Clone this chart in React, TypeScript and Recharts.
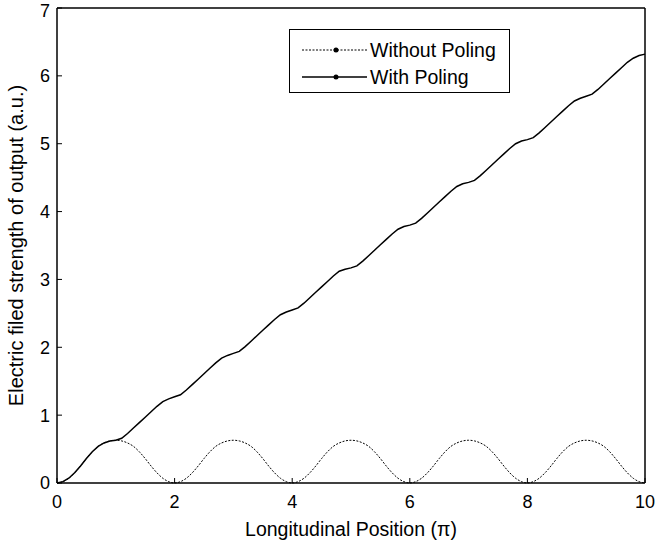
import React from 'react';
import { LineChart, Line, XAxis, YAxis, Legend } from 'recharts';

// longitudinal position, in units of pi
const positions = [
  0, 0.1, 0.2, 0.3, 0.4, 0.5, 0.6, 0.7, 0.8, 0.9,
  1, 1.1, 1.2, 1.3, 1.4, 1.5, 1.6, 1.7, 1.8, 1.9,
  2, 2.1, 2.2, 2.3, 2.4, 2.5, 2.6, 2.7, 2.8, 2.9,
  3, 3.1, 3.2, 3.3, 3.4, 3.5, 3.6, 3.7, 3.8, 3.9,
  4, 4.1, 4.2, 4.3, 4.4, 4.5, 4.6, 4.7, 4.8, 4.9,
  5, 5.1, 5.2, 5.3, 5.4, 5.5, 5.6, 5.7, 5.8, 5.9,
  6, 6.1, 6.2, 6.3, 6.4, 6.5, 6.6, 6.7, 6.8, 6.9,
  7, 7.1, 7.2, 7.3, 7.4, 7.5, 7.6, 7.7, 7.8, 7.9,
  8, 8.1, 8.2, 8.3, 8.4, 8.5, 8.6, 8.7, 8.8, 8.9,
  9, 9.1, 9.2, 9.3, 9.4, 9.5, 9.6, 9.7, 9.8, 9.9,
  10,
];

const withoutPoling = [
  0, 0.02, 0.07, 0.15, 0.25, 0.36, 0.46, 0.54, 0.59, 0.62,
  0.63, 0.62, 0.59, 0.54, 0.46, 0.36, 0.25, 0.15, 0.07, 0.02,
  0, 0.02, 0.07, 0.15, 0.25, 0.36, 0.46, 0.54, 0.59, 0.62,
  0.63, 0.62, 0.59, 0.54, 0.46, 0.36, 0.25, 0.15, 0.07, 0.02,
  0, 0.02, 0.07, 0.15, 0.25, 0.36, 0.46, 0.54, 0.59, 0.62,
  0.63, 0.62, 0.59, 0.54, 0.46, 0.36, 0.25, 0.15, 0.07, 0.02,
  0, 0.02, 0.07, 0.15, 0.25, 0.36, 0.46, 0.54, 0.59, 0.62,
  0.63, 0.62, 0.59, 0.54, 0.46, 0.36, 0.25, 0.15, 0.07, 0.02,
  0, 0.02, 0.07, 0.15, 0.25, 0.36, 0.46, 0.54, 0.59, 0.62,
  0.63, 0.62, 0.59, 0.54, 0.46, 0.36, 0.25, 0.15, 0.07, 0.02,
  0,
];

const withPoling = [
  0, 0.02, 0.07, 0.15, 0.25, 0.36, 0.46, 0.54, 0.59, 0.62,
  0.63, 0.66, 0.73, 0.81, 0.89, 0.97, 1.05, 1.13, 1.2, 1.24,
  1.27, 1.3, 1.37, 1.45, 1.53, 1.61, 1.69, 1.77, 1.84, 1.88,
  1.91, 1.94, 2.01, 2.09, 2.17, 2.25, 2.33, 2.41, 2.48, 2.52,
  2.55, 2.58, 2.65, 2.73, 2.81, 2.89, 2.97, 3.05, 3.12, 3.15,
  3.17, 3.2, 3.27, 3.35, 3.43, 3.51, 3.59, 3.67, 3.74, 3.78,
  3.8, 3.83, 3.9, 3.98, 4.06, 4.14, 4.22, 4.3, 4.37, 4.41,
  4.43, 4.46, 4.53, 4.61, 4.69, 4.77, 4.85, 4.93, 5.0, 5.04,
  5.06, 5.09, 5.16, 5.24, 5.32, 5.4, 5.48, 5.56, 5.63, 5.67,
  5.7, 5.73, 5.8, 5.88, 5.96, 6.04, 6.12, 6.2, 6.26, 6.3,
  6.32,
];

const xTicks = [0, 2, 4, 6, 8, 10];
const yTicks = [0, 1, 2, 3, 4, 5, 6, 7];

const data = positions.map((x, i) => ({
  x,
  without: withoutPoling[i],
  with: withPoling[i],
}));

const FONT = '"Liberation Sans", Arial, sans-serif';
const tickStyle = { fill: '#000', fontSize: 18, fontFamily: FONT };

const LegendBox = () => (
  <div
    style={{
      width: 219,
      height: 62,
      border: '1.5px solid #000',
      background: '#fff',
      fontFamily: FONT,
      fontSize: 19.5,
      color: '#000',
      boxSizing: 'content-box',
    }}
  >
    {[
      { label: 'Without Poling', dash: '2 1.5', w: 1 },
      { label: 'With Poling', dash: undefined, w: 1.3 },
    ].map((row, i) => (
      <div key={row.label} style={{ display: 'flex', alignItems: 'center', height: 27, marginTop: i === 0 ? 6 : 0 }}>
        <svg width={80} height={20} style={{ display: 'block' }}>
          <line x1={12} x2={77} y1={10} y2={10} stroke="#000" strokeWidth={row.w} strokeDasharray={row.dash} />
          <circle cx={46} cy={10} r={2.5} fill="#000" />
        </svg>
        <span style={{ lineHeight: '20px' }}>{row.label}</span>
      </div>
    ))}
  </div>
);

const YLabel = ({ viewBox }: any) => {
  const cx = 16;
  const cy = viewBox.y + viewBox.height / 2;
  return (
    <text
      x={cx}
      y={cy}
      transform={`rotate(-90, ${cx}, ${cy})`}
      textAnchor="middle"
      dominantBaseline="central"
      style={{ fontSize: 20, fontFamily: FONT, fill: '#000' }}
    >
      Electric filed strength of output (a.u.)
    </text>
  );
};

const XLabel = ({ viewBox }: any) => (
  <text
    x={viewBox.x + viewBox.width / 2}
    y={536}
    textAnchor="middle"
    style={{ fontSize: 19.5, fontFamily: FONT, fill: '#000' }}
  >
    Longitudinal Position (π)
  </text>
);

export default function App() {
  return (
    <div style={{ position: 'absolute', left: 0, top: 0, background: '#fff' }}>
      <LineChart width={657} height={545} data={data} margin={{ top: 0, right: 0, left: 0, bottom: 0 }}>
        <XAxis
          xAxisId="bottom"
          dataKey="x"
          type="number"
          domain={[0, 10]}
          ticks={xTicks}
          height={62}
          tickSize={-5}
          tickMargin={17}
          tick={tickStyle}
          axisLine={{ stroke: '#000', strokeWidth: 1.5 }}
          tickLine={{ stroke: '#000', strokeWidth: 1 }}
          label={<XLabel />}
        />
        <XAxis
          xAxisId="top"
          orientation="top"
          dataKey="x"
          type="number"
          domain={[0, 10]}
          ticks={xTicks}
          height={8}
          tickSize={-5}
          tick={false}
          axisLine={{ stroke: '#000', strokeWidth: 1.5 }}
          tickLine={{ stroke: '#000', strokeWidth: 1 }}
        />
        <YAxis
          yAxisId="left"
          type="number"
          domain={[0, 7]}
          ticks={yTicks}
          width={57}
          tickSize={-5}
          tickMargin={12}
          tick={tickStyle}
          axisLine={{ stroke: '#000', strokeWidth: 1.5 }}
          tickLine={{ stroke: '#000', strokeWidth: 1 }}
          label={<YLabel />}
        />
        <YAxis
          yAxisId="right"
          orientation="right"
          type="number"
          domain={[0, 7]}
          ticks={yTicks}
          width={12}
          tickSize={-5}
          tick={false}
          axisLine={{ stroke: '#000', strokeWidth: 1.5 }}
          tickLine={{ stroke: '#000', strokeWidth: 1 }}
        />
        <Legend
          layout="horizontal"
          verticalAlign="middle"
          align="center"
          content={<LegendBox />}
          wrapperStyle={{ top: 29, left: 289, width: 'auto', margin: 0 }}
        />
        <Line
          xAxisId="bottom"
          yAxisId="left"
          dataKey="without"
          name="Without Poling"
          type="monotone"
          stroke="#000"
          strokeWidth={1}
          strokeDasharray="2 1.5"
          dot={false}
          isAnimationActive={false}
        />
        <Line
          xAxisId="top"
          yAxisId="right"
          dataKey="with"
          name="With Poling"
          type="linear"
          stroke="#000"
          strokeWidth={1.5}
          dot={false}
          isAnimationActive={false}
        />
      </LineChart>
    </div>
  );
}
